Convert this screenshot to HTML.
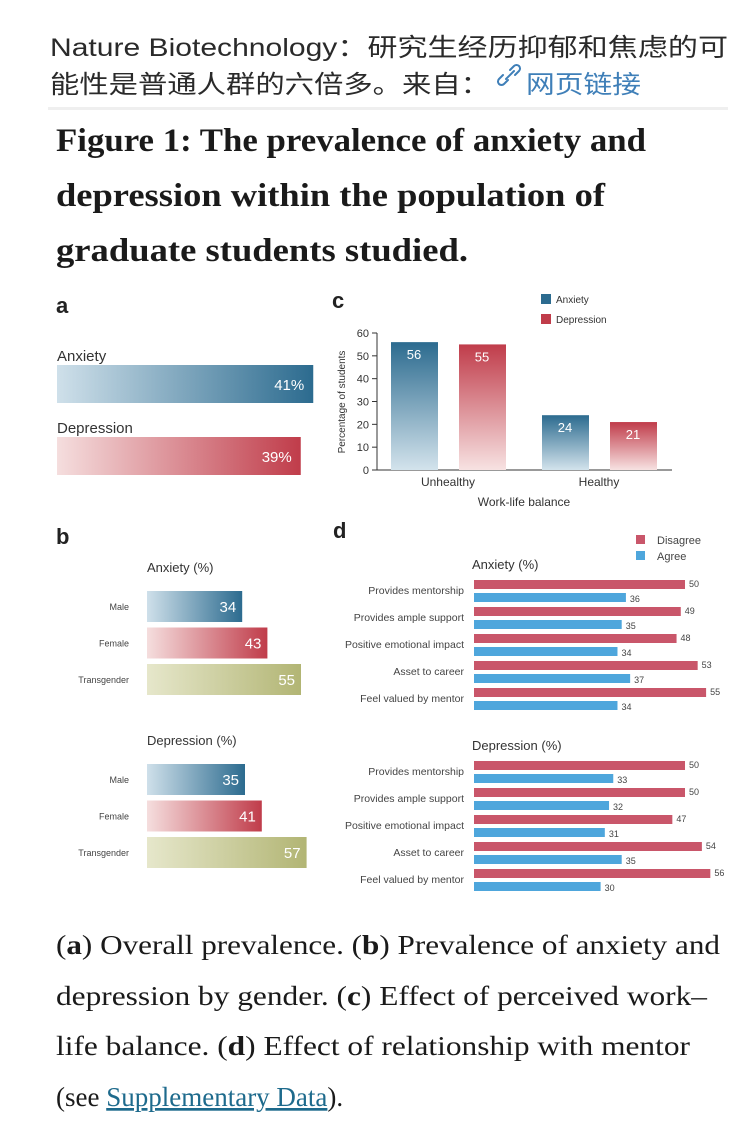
<!DOCTYPE html>
<html><head><meta charset="utf-8"><style>
html,body{margin:0;padding:0;background:#fff;width:752px;height:1146px;overflow:hidden}
svg{display:block}
.sans{font-family:"Liberation Sans",sans-serif}
.serif{font-family:"Liberation Serif",serif}
</style></head><body>
<svg id="fig" width="752" height="1146" viewBox="0 0 752 1146" xmlns="http://www.w3.org/2000/svg">
<defs>
<linearGradient id="gBlue" x1="0" x2="1" y1="0" y2="0"><stop offset="0" stop-color="#cfe0ea"/><stop offset="1" stop-color="#2c6b8f"/></linearGradient>
<linearGradient id="gRed" x1="0" x2="1" y1="0" y2="0"><stop offset="0" stop-color="#f5dede"/><stop offset="1" stop-color="#c03c4a"/></linearGradient>
<linearGradient id="gOlive" x1="0" x2="1" y1="0" y2="0"><stop offset="0" stop-color="#e6e7cb"/><stop offset="1" stop-color="#b2b574"/></linearGradient>
<linearGradient id="vBlue" x1="0" x2="0" y1="1" y2="0"><stop offset="0" stop-color="#d3e3ec"/><stop offset="1" stop-color="#2c6b8f"/></linearGradient>
<linearGradient id="vRed" x1="0" x2="0" y1="1" y2="0"><stop offset="0" stop-color="#f7e2e2"/><stop offset="1" stop-color="#c03c4a"/></linearGradient>
</defs>

<text x="50" y="56" font-size="25" fill="#2a2a2a" textLength="678" lengthAdjust="spacingAndGlyphs" style="font-family:'Liberation Sans','Noto Sans CJK SC',sans-serif">Nature Biotechnology：研究生经历抑郁和焦虑的可</text>
<text x="50" y="93" font-size="25" fill="#2a2a2a" textLength="440" lengthAdjust="spacingAndGlyphs" style="font-family:'Liberation Sans','Noto Sans CJK SC',sans-serif">能性是普通人群的六倍多。来自：</text>
<g fill="none" stroke="#3f7fb8" stroke-width="2" stroke-linecap="round">
<path d="M508 80 L504 84 a3.5 3.5 0 0 1 -5 -5 L503 75"/>
<path d="M510 70 L514 66 a3.5 3.5 0 0 1 5 5 L515 75"/>
<path d="M506 79 L514 71"/>
</g>
<text x="526" y="93" font-size="25" fill="#3f7fb8" textLength="115" lengthAdjust="spacingAndGlyphs" style="font-family:'Liberation Sans','Noto Sans CJK SC',sans-serif">网页链接</text>
<rect x="48" y="107" width="680" height="3" fill="#efefef"/>

<g class="serif" font-weight="bold" font-size="33" fill="#1a1a1a">
<text x="56" y="151" textLength="590" lengthAdjust="spacingAndGlyphs">Figure 1: The prevalence of anxiety and</text>
<text x="56" y="206" textLength="549" lengthAdjust="spacingAndGlyphs">depression within the population of</text>
<text x="56" y="261" textLength="412" lengthAdjust="spacingAndGlyphs">graduate students studied.</text>
</g>

<g class="sans" font-size="22" font-weight="bold" fill="#222">
<text x="56" y="313">a</text>
<text x="332" y="308">c</text>
<text x="56" y="544">b</text>
<text x="333" y="538">d</text>
</g>

<g id="panelA" class="sans"></g>
<g id="panelB" class="sans"></g>
<g id="panelC" class="sans"></g>
<g id="panelD" class="sans"></g>

<g class="serif" font-size="27" fill="#1a1a1a">
<text x="56" y="954" textLength="664" lengthAdjust="spacingAndGlyphs">(<tspan font-weight="bold">a</tspan>) Overall prevalence. (<tspan font-weight="bold">b</tspan>) Prevalence of anxiety and</text>
<text x="56" y="1005" textLength="651" lengthAdjust="spacingAndGlyphs">depression by gender. (<tspan font-weight="bold">c</tspan>) Effect of perceived work–</text>
<text x="56" y="1055" textLength="634" lengthAdjust="spacingAndGlyphs">life balance. (<tspan font-weight="bold">d</tspan>) Effect of relationship with mentor</text>
<text x="56" y="1106">(see <tspan fill="#1d6a8c" text-decoration="underline">Supplementary Data</tspan>).</text>
</g>
</svg>
<script>
// Panel a
const aLabels = ["Anxiety", "Depression"];
const aValues = [41, 39];
// Panel b
const bGroups = ["Anxiety (%)", "Depression (%)"];
const bCats = ["Male", "Female", "Transgender"];
const bAnxiety = [34, 43, 55];
const bDepression = [35, 41, 57];
// Panel c
const cCats = ["Unhealthy", "Healthy"];
const cAnxiety = [56, 24];
const cDepression = [55, 21];
const cTicks = [0, 10, 20, 30, 40, 50, 60];
// Panel d
const dCats = ["Provides mentorship", "Provides ample support", "Positive emotional impact", "Asset to career", "Feel valued by mentor"];
const dAnxDisagree = [50, 49, 48, 53, 55];
const dAnxAgree = [36, 35, 34, 37, 34];
const dDepDisagree = [50, 50, 47, 54, 56];
const dDepAgree = [33, 32, 31, 35, 30];

const NS = "http://www.w3.org/2000/svg";
function mk(tag, attrs, parent, txt) {
  const e = document.createElementNS(NS, tag);
  for (const k in attrs) e.setAttribute(k, attrs[k]);
  if (txt !== undefined) e.textContent = txt;
  parent.appendChild(e);
  return e;
}

// ---- Panel A
const pA = document.getElementById("panelA");
const ax = v => v * 6.25;
const aFills = ["url(#gBlue)", "url(#gRed)"];
aLabels.forEach((lab, i) => {
  const y0 = 365 + i * 72;
  const t = mk("text", {x: 57, y: y0 - 4, "font-size": 15, fill: "#333"}, pA, lab);
  
  
  const r = mk("rect", {x: 57, y: y0, width: ax(aValues[i]), height: 38, fill: aFills[i]}, pA);
  
  
  const v = mk("text", {x: 57 + ax(aValues[i]) - 9, y: y0 + 25, "font-size": 15, fill: "#fff", "text-anchor": "end"}, pA, aValues[i] + "%");
  
  
});

// ---- Panel B
const pB = document.getElementById("panelB");
const bx = v => v * 2.8;
const bFills = ["url(#gBlue)", "url(#gRed)", "url(#gOlive)"];
const bSeries = [bAnxiety, bDepression];
const bTops = [591, 764];
bGroups.forEach((g, gi) => {
  const tt = mk("text", {x: 147, y: bTops[gi] - 19, "font-size": 13, fill: "#333"}, pB, g);
  
  
  bCats.forEach((c, i) => {
    const y = bTops[gi] + i * 36.5;
    const l = mk("text", {x: 129, y: y + 19, "font-size": 9, fill: "#444", "text-anchor": "end"}, pB, c);
    
    
    const val = bSeries[gi][i];
    const r = mk("rect", {x: 147, y: y, width: bx(val), height: 31, fill: bFills[i]}, pB);
    
    
    const v = mk("text", {x: 147 + bx(val) - 6, y: y + 21, "font-size": 15, fill: "#fff", "text-anchor": "end"}, pB, val);
    
    
  });
});

// ---- Panel C
const pC = document.getElementById("panelC");
const cy = v => 470 - v * (137 / 60);
const cAxisX = 377;
cTicks.forEach(t => {
  const tk = mk("line", {x1: cAxisX - 5, x2: cAxisX, y1: cy(t), y2: cy(t), stroke: "#333", "stroke-width": 1}, pC);
  
  
  const lb = mk("text", {x: cAxisX - 8, y: cy(t) + 4, "font-size": 11, fill: "#333", "text-anchor": "end"}, pC, t);
  
  
});
const yAx = mk("line", {x1: cAxisX, x2: cAxisX, y1: cy(60), y2: cy(0), stroke: "#333"}, pC);


const xAx = mk("line", {x1: cAxisX, x2: 672, y1: cy(0), y2: cy(0), stroke: "#333"}, pC);


const yT = mk("text", {x: 0, y: 0, "font-size": 10, fill: "#333", "text-anchor": "middle", transform: "translate(345,402) rotate(-90)"}, pC, "Percentage of students");


const cGroupX = [391, 542];
cCats.forEach((c, i) => {
  const gx = cGroupX[i];
  [[cAnxiety[i], "url(#vBlue)", 0, "anxiety"], [cDepression[i], "url(#vRed)", 68, "depression"]].forEach(([val, f, off, nm]) => {
    const r = mk("rect", {x: gx + off, y: cy(val), width: 47, height: cy(0) - cy(val), fill: f}, pC);
    
    
    const v = mk("text", {x: gx + off + 23, y: cy(val) + 17, "font-size": 13, fill: "#fff", "text-anchor": "middle"}, pC, val);
    
    
  });
  const cl = mk("text", {x: gx + 57, y: 486, "font-size": 12, fill: "#333", "text-anchor": "middle"}, pC, c);
  
  
});
const xT = mk("text", {x: 524, y: 506, "font-size": 12, fill: "#333", "text-anchor": "middle"}, pC, "Work-life balance");


[["Anxiety", "#2c6b8f", 294], ["Depression", "#c03c4a", 314]].forEach(([n, col, y]) => {
  const s = mk("rect", {x: 541, y: y, width: 10, height: 10, fill: col}, pC);
  
  
  const t = mk("text", {x: 556, y: y + 9, "font-size": 10, fill: "#333"}, pC, n);
  
  
});

// ---- Panel D
const pD = document.getElementById("panelD");
const dx = v => v * 4.22;
const dSets = [["Anxiety (%)", dAnxDisagree, dAnxAgree, 580], ["Depression (%)", dDepDisagree, dDepAgree, 761]];
dSets.forEach(([title, dis, agr, top]) => {
  const tt = mk("text", {x: 472, y: top - 11, "font-size": 13, fill: "#333"}, pD, title);
  
  
  dCats.forEach((c, i) => {
    const y = top + i * 27;
    const l = mk("text", {x: 464, y: y + 14, "font-size": 10.5, fill: "#444", "text-anchor": "end"}, pD, c);
    
    
    const r1 = mk("rect", {x: 474, y: y, width: dx(dis[i]), height: 9, fill: "#c9566a"}, pD);
    
    
    const v1 = mk("text", {x: 474 + dx(dis[i]) + 4, y: y + 7, "font-size": 9, fill: "#444"}, pD, dis[i]);
    
    
    const r2 = mk("rect", {x: 474, y: y + 13, width: dx(agr[i]), height: 9, fill: "#4ea6dc"}, pD);
    
    
    const v2 = mk("text", {x: 474 + dx(agr[i]) + 4, y: y + 22, "font-size": 9, fill: "#444"}, pD, agr[i]);
    
    
  });
});
[["Disagree", "#c9566a", 535], ["Agree", "#4ea6dc", 551]].forEach(([n, col, y]) => {
  const s = mk("rect", {x: 636, y: y, width: 9, height: 9, fill: col}, pD);
  
  
  const t = mk("text", {x: 657, y: y + 9, "font-size": 11, fill: "#444"}, pD, n);
  
  
});
</script>
</body></html>
